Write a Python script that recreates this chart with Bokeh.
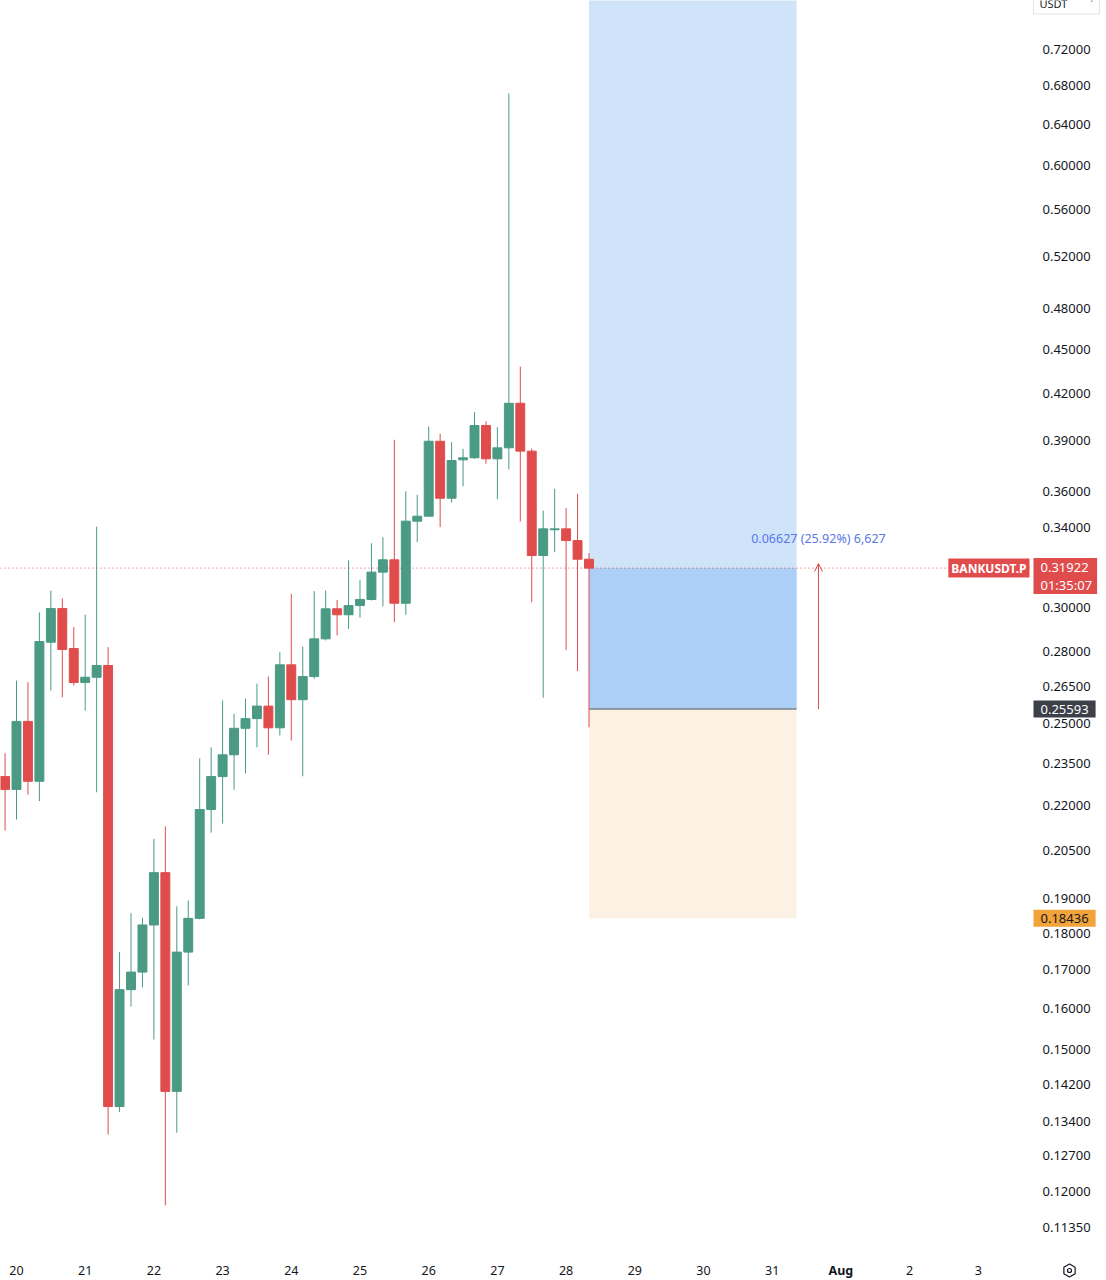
import pandas as pd
from bokeh.plotting import figure
from bokeh.models import (ColumnDataSource, Range1d, FixedTicker, PrintfTickFormatter,
                          Label, Arrow, OpenHead)
from bokeh.embed import file_html
from bokeh.resources import INLINE

# ---------------- data (4h candles, BANKUSDT.P) ----------------
start = "2025-07-19 20:00"
opens = [0.2302, 0.2256, 0.2510, 0.2285, 0.2842, 0.2996, 0.2814, 0.2668, 0.2690, 0.2740,
         0.1372, 0.1648, 0.1694, 0.1824, 0.1980, 0.1405, 0.1748, 0.1843, 0.2186, 0.2302,
         0.2382, 0.2483, 0.2521, 0.2571, 0.2485, 0.2743, 0.2597, 0.2693, 0.2857, 0.2995,
         0.2967, 0.3010, 0.3039, 0.3172, 0.3234, 0.3021, 0.3436, 0.3463, 0.3895, 0.3562,
         0.3783, 0.3795, 0.3992, 0.3789, 0.3855, 0.4134, 0.3835, 0.3256, 0.3390, 0.3395,
         0.3333, 0.3237]
highs = [0.2388, 0.2676, 0.2669, 0.2978, 0.3082, 0.3044, 0.2910, 0.2968, 0.3407, 0.2820,
         0.1748, 0.1858, 0.1845, 0.2088, 0.2129, 0.1878, 0.1895, 0.2369, 0.2410, 0.2594,
         0.2540, 0.2601, 0.2663, 0.2693, 0.2798, 0.3066, 0.2823, 0.3079, 0.3082, 0.3037,
         0.3231, 0.3134, 0.3319, 0.3351, 0.3904, 0.3601, 0.3581, 0.3986, 0.3941, 0.3889,
         0.3849, 0.4077, 0.4019, 0.3982, 0.6720, 0.4379, 0.3851, 0.3494, 0.3615, 0.3507,
         0.3587, 0.3268]
lows = [0.2115, 0.2152, 0.2238, 0.2215, 0.2635, 0.2607, 0.2655, 0.2553, 0.2246, 0.1313,
        0.1360, 0.1605, 0.1654, 0.1524, 0.1175, 0.1317, 0.1659, 0.1840, 0.2108, 0.2138,
        0.2255, 0.2314, 0.2410, 0.2382, 0.2455, 0.2436, 0.2303, 0.2683, 0.2850, 0.2872,
        0.2902, 0.2953, 0.3034, 0.3006, 0.2933, 0.2967, 0.3325, 0.3461, 0.3404, 0.3538,
        0.3630, 0.3790, 0.3760, 0.3557, 0.3726, 0.3434, 0.3026, 0.2605, 0.3273, 0.2808,
        0.2716, 0.2487]
closes = [0.2256, 0.2510, 0.2285, 0.2845, 0.2996, 0.2810, 0.2668, 0.2690, 0.2740, 0.1372,
          0.1648, 0.1694, 0.1824, 0.1980, 0.1405, 0.1748, 0.1843, 0.2186, 0.2302, 0.2382,
          0.2483, 0.2521, 0.2571, 0.2485, 0.2743, 0.2597, 0.2693, 0.2857, 0.2995, 0.2967,
          0.3010, 0.3039, 0.3172, 0.3234, 0.3021, 0.3436, 0.3463, 0.3895, 0.3562, 0.3779,
          0.3795, 0.3992, 0.3789, 0.3855, 0.4134, 0.3835, 0.3256, 0.3395, 0.3395, 0.3333,
          0.3237, 0.31922]

y_ticks = [0.72, 0.68, 0.64, 0.60, 0.56, 0.52, 0.48, 0.45, 0.42, 0.39, 0.36, 0.34,
           0.30, 0.28, 0.265, 0.25, 0.235, 0.22, 0.205, 0.19, 0.18, 0.17, 0.16, 0.15,
           0.142, 0.134, 0.127, 0.12, 0.1135]
x_ticks = [20, 21, 22, 23, 24, 25, 26, 27, 28, 29, 30, 31, 32, 33, 34]
x_labels = ["20", "21", "22", "23", "24", "25", "26", "27", "28", "29", "30", "31",
            "Aug", "2", "3"]
month_tick = 32           # "Aug" is shown in bold

symbol = "BANKUSDT.P"
quote = "USDT"
last_price = 0.31922
countdown = "01:35:07"
price_block_center = 0.3153
entry_price = 0.25593
stop_price = 0.18436
target_price = 0.80
pos_start = "2025-07-28 08:00"
pos_end = "2025-07-31 08:30"
arrow_time = "2025-07-31 16:10"
arrow_tip = 0.3215
pnl_text = "0.06627 (25.92%) 6,627"
pnl_price = 0.3344

# ---------------- helpers ----------------
ref = pd.Timestamp("2025-06-30 00:00")
def day(t):
    return (pd.Timestamp(t) - ref) / pd.Timedelta(days=1)

UP = "#4a9a84"
DOWN = "#e04c4c"
FONT = "Noto Sans"
INK = "#131722"

times = pd.date_range(start, periods=len(opens), freq="4h")
xs = [day(t) for t in times]
colors = [UP if c >= o else DOWN for o, c in zip(opens, closes)]
src = ColumnDataSource(dict(
    x=xs, high=highs, low=lows,
    top=[max(o, c) for o, c in zip(opens, closes)],
    bottom=[min(o, c) for o, c in zip(opens, closes)],
    color=colors))

# view window (whole picture is the frame; both scales are drawn at fixed spots)
x0, x1 = 19.7671, 35.8661
axis_x = 34.7598          # where the price scale starts
y0, y1 = 0.10444, 0.77751
axis_y = 0.10863          # where the time scale starts
time_label_y = 0.10609
usdt_price = 0.7739
icon_x = 35.3275

p = figure(frame_width=1106, frame_height=1280,
           x_range=Range1d(x0, x1), y_range=Range1d(y0, y1),
           y_axis_type="log", y_axis_location="right",
           output_backend="svg", toolbar_location=None,
           min_border_left=0, min_border_top=0, min_border_right=0, min_border_bottom=0,
           background_fill_color="white", border_fill_color="white",
           outline_line_color=None)
p.xgrid.visible = False
p.ygrid.visible = False

# position tool zones
ps, pe = day(pos_start), day(pos_end)
p.quad(left=[ps], right=[pe], bottom=[entry_price], top=[target_price],
       fill_color="#cfe3f9", line_color=None)
p.quad(left=[ps], right=[pe], bottom=[stop_price], top=[entry_price],
       fill_color="#fbf2e3", line_color=None)
p.quad(left=[ps], right=[pe], bottom=[entry_price], top=[last_price],
       fill_color="#abcff6", line_color=None)
p.segment(x0=[ps], y0=[entry_price], x1=[pe], y1=[entry_price],
          line_color="#7d8087", line_width=1.5)

# current price line (dotted) up to the price scale
p.segment(x0=[x0], y0=[last_price], x1=[axis_x], y1=[last_price],
          line_color=DOWN, line_dash="1 3", line_width=1)

# candles
p.segment(x0="x", y0="high", x1="x", y1="low", color="color", line_width=1, source=src)
p.vbar(x="x", width=0.13, top="top", bottom="bottom", fill_color="color",
       line_color="color", source=src)

# arrow + pnl text
ax = day(arrow_time)
p.add_layout(Arrow(x_start=ax, y_start=entry_price, x_end=ax, y_end=arrow_tip,
                   line_color=DOWN, line_width=1,
                   end=OpenHead(size=8, line_color=DOWN, line_width=1)))
p.add_layout(Label(x=ax, y=pnl_price, text=pnl_text, text_align="center",
                   text_baseline="middle", text_color="#5a78e6",
                   text_font=FONT, text_font_size="12.5px"))

# price scale
ya = p.yaxis[0]
ya.fixed_location = axis_x
ya.ticker = FixedTicker(ticks=y_ticks)
ya.formatter = PrintfTickFormatter(format="%.5f")
ya.axis_line_color = None
ya.major_tick_line_color = None
ya.minor_tick_line_color = None
ya.major_tick_out = 0
ya.major_tick_in = 0
ya.major_label_standoff = 12
ya.major_label_text_font = FONT
ya.major_label_text_font_size = "13px"
ya.major_label_text_color = INK

# time scale
xa = p.xaxis[0]
xa.fixed_location = axis_y
xa.ticker = FixedTicker(ticks=x_ticks)
xa.major_label_overrides = {t: ("" if t == month_tick else l)
                            for t, l in zip(x_ticks, x_labels)}
xa.axis_line_color = None
xa.major_tick_line_color = None
xa.minor_tick_line_color = None
xa.major_tick_out = 0
xa.major_tick_in = 0
xa.major_label_standoff = 11
xa.major_label_text_font = FONT
xa.major_label_text_font_size = "12.5px"
xa.major_label_text_color = INK
p.add_layout(Label(x=month_tick, y=time_label_y,
                   text=x_labels[x_ticks.index(month_tick)],
                   text_align="center", text_baseline="middle", text_color=INK,
                   text_font=FONT, text_font_size="12.5px", text_font_style="bold"))

# settings icon of the chart (bottom right)
p.scatter(x=[icon_x], y=[time_label_y], marker="hex", size=13, angle=1.5708,
          fill_color=None, line_color=INK, line_width=1.2)
p.scatter(x=[icon_x], y=[time_label_y], marker="circle", size=4,
          fill_color=None, line_color=INK, line_width=1.2)

# price-scale labels
p.add_layout(Label(x=axis_x, y=last_price, x_offset=-1, text=symbol, text_align="right",
                   text_baseline="middle", text_color="white", text_font=FONT,
                   text_font_size="12px", text_font_style="bold",
                   background_fill_color=DOWN,
                   padding=dict(left=3, right=3, top=1, bottom=1)))
p.add_layout(Label(x=axis_x, y=price_block_center, x_offset=3,
                   text=f"{last_price:.5f}\n{countdown}",
                   text_align="left", text_baseline="middle", text_color="white",
                   text_font=FONT, text_font_size="13px", text_line_height=1.0,
                   background_fill_color=DOWN,
                   padding=dict(left=7, right=5, top=0, bottom=0)))
p.add_layout(Label(x=axis_x, y=entry_price, x_offset=3, text=f"{entry_price:.5f}",
                   text_align="left", text_baseline="middle", text_color="white",
                   text_font=FONT, text_font_size="13px",
                   background_fill_color="#3d4049",
                   padding=dict(left=7, right=7, top=4, bottom=4)))
p.add_layout(Label(x=axis_x, y=stop_price, x_offset=3, text=f"{stop_price:.5f}",
                   text_align="left", text_baseline="middle", text_color=INK,
                   text_font=FONT, text_font_size="13px",
                   background_fill_color="#f2a33a",
                   padding=dict(left=7, right=7, top=4, bottom=4)))
p.add_layout(Label(x=axis_x, y=usdt_price, x_offset=3,
                   text=quote + "\u00a0" * 8 + "\u02c5",
                   text_align="left", text_baseline="middle", text_color=INK,
                   text_font=FONT, text_font_size="11px",
                   border_line_color="#e0e3eb",
                   padding=dict(left=6, right=6, top=3, bottom=3)))

open("out.html", "w").write(file_html(p, INLINE))
